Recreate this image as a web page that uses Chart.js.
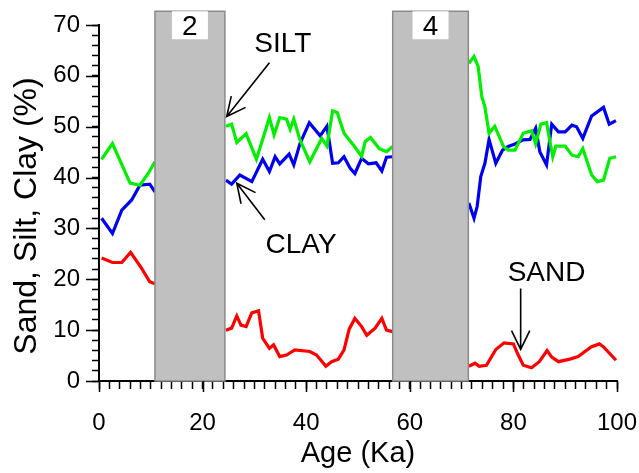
<!DOCTYPE html>
<html>
<head>
<meta charset="utf-8">
<script src="https://cdn.jsdelivr.net/npm/chart.js@4.4.1/dist/chart.umd.min.js"></script>
<style>
  html, body { margin: 0; padding: 0; background: #fff; }
  #wrap { width: 639px; height: 473px; }
</style>
</head>
<body>
<div id="wrap"><canvas id="grain" width="639" height="473"></canvas></div>
<script>
// Valores (null = troço escondido pelas bandas cinzentas)
const siltAge = [0.5, 2.6, 6.0, 7.9, 9.5, 10.8, 17, 24.5, 25.6, 26.6, 28.4, 30.4, 32.9, 33.8, 34.9, 36.2, 36.9, 37.6, 38.8, 40.7, 43.0, 44.0, 45.1, 46.0, 47.3, 49.1, 50.7, 51.4, 52.4, 54.1, 55.5, 56.7, 64, 71.4, 72.4, 73.2, 73.9, 74.5, 75.3, 76.4, 78.1, 79.0, 80.3, 81.9, 83.5, 84.3, 85.3, 86.4, 87.6, 88.2, 90.0, 91.3, 92.5, 93.4, 95.1, 96.2, 97.4, 98.6, 99.8];
const siltPct = [43.6, 46.7, 38.9, 38.5, 40.8, 43.1, null, 50.1, 50.5, 46.9, 48.6, 43.6, 51.8, 48.4, 51.8, 51.5, 49.5, 51.5, 47.4, 43.1, 47.7, 46.2, 53.1, 52.8, 48.7, 46.4, 44.2, 47.1, 47.9, 45.7, 45.1, 46.1, null, 62.5, 63.8, 61.8, 55.9, 53.9, 48.7, 50.1, 46.1, 45.4, 45.4, 48.7, 49.2, 46.6, 50.5, 50.8, 44.1, 46.2, 46.2, 44.4, 44.1, 45.7, 40.5, 39.2, 39.5, 43.8, 44.1];

const clayAge = [0.5, 2.6, 4.4, 6.3, 7.9, 9.8, 10.8, 17, 24.5, 25.6, 27.2, 29.5, 31.6, 32.9, 34.0, 34.9, 36.7, 37.6, 38.8, 40.6, 42.7, 44.0, 45.1, 46.2, 47.3, 48.5, 49.4, 50.7, 52.0, 53.5, 54.6, 55.5, 56.7, 64, 71.4, 72.4, 73.0, 73.7, 74.5, 75.3, 76.6, 77.9, 79.0, 80.3, 81.9, 83.2, 84.3, 85.1, 86.4, 87.4, 88.7, 90.0, 91.3, 92.2, 93.4, 95.1, 97.4, 98.5, 99.8];
const clayPct = [32.0, 29.0, 33.6, 35.6, 38.5, 38.7, 37.2, null, 39.5, 38.7, 40.5, 39.2, 43.6, 41.2, 44.1, 42.7, 44.6, 42.5, 46.7, 50.8, 48.2, 50.1, 42.8, 42.9, 44.1, 41.8, 40.8, 43.8, 42.7, 42.9, 41.3, 44.0, 44.1, null, 35.0, 32.0, 34.3, 40.2, 42.8, 47.5, 42.8, 45.4, 46.1, 46.6, 47.4, 47.5, 49.7, 45.1, 42.5, 50.5, 49.0, 49.0, 50.3, 50.0, 47.7, 52.1, 53.8, 50.5, 51.2];

const sandAge = [0.5, 2.6, 4.4, 6.1, 8.2, 9.8, 10.8, 17, 24.5, 25.6, 26.6, 27.4, 28.4, 29.5, 30.8, 31.6, 32.9, 33.7, 34.9, 36.2, 37.8, 40.7, 42.0, 43.8, 44.9, 46.2, 47.3, 48.3, 49.4, 50.7, 51.7, 53.3, 54.6, 55.5, 56.7, 64, 71.4, 72.6, 73.4, 74.8, 76.6, 78.2, 80.0, 80.8, 81.9, 83.5, 85.0, 86.5, 87.4, 88.7, 90.9, 92.5, 95.0, 96.6, 97.4, 99.8];
const sandPct = [24.2, 23.3, 23.3, 25.3, 22.2, 19.5, 19.1, null, 10.0, 10.4, 12.8, 11.0, 10.7, 13.4, 13.8, 8.4, 6.4, 7.1, 4.8, 5.1, 6.1, 5.8, 5.1, 2.9, 3.8, 4.3, 6.1, 10.2, 12.3, 10.7, 9.0, 10.4, 12.3, 10.0, 9.7, null, 2.9, 3.5, 2.9, 3.1, 6.2, 7.5, 7.3, 5.4, 3.1, 2.6, 3.8, 6.0, 4.7, 3.8, 4.3, 4.8, 6.7, 7.3, 6.7, 4.1];

// Bandas (idades em Ka) e respetivas etiquetas
const bandStart  = [10.8, 56.7];
const bandEnd    = [24.3, 71.3];
const bandLabels = ["2", "4"];

// Anotações: texto e seta (em unidades dos eixos)
const noteText  = ["SILT", "CLAY", "SAND"];
const noteAt    = [[35.5, 66.3], [39.0, 26.7], [86.4, 21.2]];
const arrowFrom = [[32.9, 62.6], [32.0, 31.7], [81.4, 18.2]];
const arrowTo   = [[24.65, 52.0], [26.6, 38.9], [81.4, 6.2]];

const FONT = "'Liberation Sans', Arial, sans-serif";

function toPoints(xs, ys) {
    return xs.map((x, i) => ({ x: x, y: ys[i] }));
}

function drawArrow(ctx, x1, y1, x2, y2) {
    const ang = Math.atan2(y1 - y2, x1 - x2);
    const len = 21, spread = 0.45;
    ctx.beginPath();
    ctx.moveTo(x1, y1);
    ctx.lineTo(x2, y2);
    ctx.moveTo(x2 + len * Math.cos(ang - spread), y2 + len * Math.sin(ang - spread));
    ctx.lineTo(x2, y2);
    ctx.lineTo(x2 + len * Math.cos(ang + spread), y2 + len * Math.sin(ang + spread));
    ctx.stroke();
}

const decorPlugin = {
    id: "decor",
    afterDatasetsDraw(chart) {
        const { ctx, scales: { x, y } } = chart;
        const top = y.getPixelForValue(72.7);
        const bottom = y.getPixelForValue(0);
        ctx.save();
        bandStart.forEach((s, i) => {
            const l = x.getPixelForValue(s);
            const r = x.getPixelForValue(bandEnd[i]);
            ctx.fillStyle = "#c0c0c0";
            ctx.fillRect(l, top, r - l, bottom - top);
            ctx.strokeStyle = "#8a8a8a";
            ctx.lineWidth = 1.5;
            ctx.strokeRect(l, top, r - l, bottom - top);
            // caixa branca com o número
            const mid = (l + r) / 2;
            const boxB = y.getPixelForValue(67.2);
            ctx.fillStyle = "#fff";
            ctx.fillRect(mid - 18, top, 36, boxB - top);
            ctx.fillStyle = "#000";
            ctx.font = "28px " + FONT;
            ctx.textAlign = "center";
            ctx.textBaseline = "alphabetic";
            ctx.fillText(bandLabels[i], mid, boxB - 4);
        });
        ctx.restore();
    },
    afterDraw(chart) {
        const { ctx, chartArea, scales: { x, y } } = chart;
        ctx.save();
        // ticks maiores
        ctx.strokeStyle = "#000";
        ctx.lineWidth = 1.5;
        ctx.beginPath();
        for (let v = 0; v <= 70; v += 10) {
            const py = Math.round(y.getPixelForValue(v)) + 0.5;
            ctx.moveTo(chartArea.left - 13, py);
            ctx.lineTo(chartArea.left, py);
        }
        for (let v = 0; v <= 100; v += 20) {
            const px = Math.round(x.getPixelForValue(v)) + 0.5;
            ctx.moveTo(px, chartArea.bottom);
            ctx.lineTo(px, chartArea.bottom + 11);
        }
        ctx.stroke();

        // anotações
        ctx.fillStyle = "#000";
        ctx.font = "28px " + FONT;
        ctx.textAlign = "center";
        ctx.textBaseline = "middle";
        noteText.forEach((t, i) => {
            ctx.fillText(t, x.getPixelForValue(noteAt[i][0]), y.getPixelForValue(noteAt[i][1]));
            ctx.lineWidth = 1.6;
            drawArrow(ctx,
                x.getPixelForValue(arrowFrom[i][0]), y.getPixelForValue(arrowFrom[i][1]),
                x.getPixelForValue(arrowTo[i][0]), y.getPixelForValue(arrowTo[i][1]));
        });

        // títulos dos eixos
        ctx.font = "29px " + FONT;
        ctx.textBaseline = "alphabetic";
        ctx.fillText("Age (Ka)", (chartArea.left + chartArea.right) / 2, chartArea.bottom + 81);

        ctx.translate(36, (chartArea.top + chartArea.bottom) / 2 + 13);
        ctx.rotate(-Math.PI / 2);
        ctx.font = "32px " + FONT;
        ctx.fillText("Sand, Silt, Clay (%)", 0, 0);
        ctx.restore();
    }
};

const tickFont = { family: FONT, size: 24 };

new Chart(document.getElementById("grain"), {
    type: "line",
    data: {
        datasets: [
            { label: "Silt", data: toPoints(siltAge, siltPct), borderColor: "#00f000" },
            { label: "Clay", data: toPoints(clayAge, clayPct), borderColor: "#0000f0" },
            { label: "Sand", data: toPoints(sandAge, sandPct), borderColor: "#ff0000" }
        ].map(d => Object.assign(d, { borderWidth: 3.2, pointRadius: 0, tension: 0, spanGaps: false, fill: false }))
    },
    options: {
        responsive: false,
        animation: false,
        devicePixelRatio: 1,
        layout: { padding: { top: 25, right: 22, left: 0, bottom: 0 } },
        plugins: { legend: { display: false }, tooltip: { enabled: false } },
        scales: {
            x: {
                type: "linear", min: 0, max: 100,
                afterFit: s => { s.height = 92; s.paddingLeft = 0; s.paddingRight = 0; },
                ticks: {
                    stepSize: 2, autoSkip: false, minRotation: 0, maxRotation: 0,
                    color: "#000", font: tickFont, padding: 20,
                    callback: v => (Math.round(v) % 20 === 0 ? v : "")
                },
                grid: { drawOnChartArea: false, drawTicks: true, tickLength: 8, tickColor: "#000", tickWidth: 1.5 },
                border: { color: "#000", width: 2 }
            },
            y: {
                min: 0, max: 70,
                afterFit: s => { s.width = 99; s.paddingTop = 0; s.paddingBottom = 0; },
                ticks: {
                    stepSize: 2, autoSkip: false,
                    color: "#000", font: tickFont, padding: 12,
                    callback: v => (Math.round(v) % 10 === 0 ? v : "")
                },
                grid: { drawOnChartArea: false, drawTicks: true, tickLength: 7, tickColor: "#000", tickWidth: 1.5 },
                border: { color: "#000", width: 2 }
            }
        }
    },
    plugins: [decorPlugin]
});
</script>
</body>
</html>
